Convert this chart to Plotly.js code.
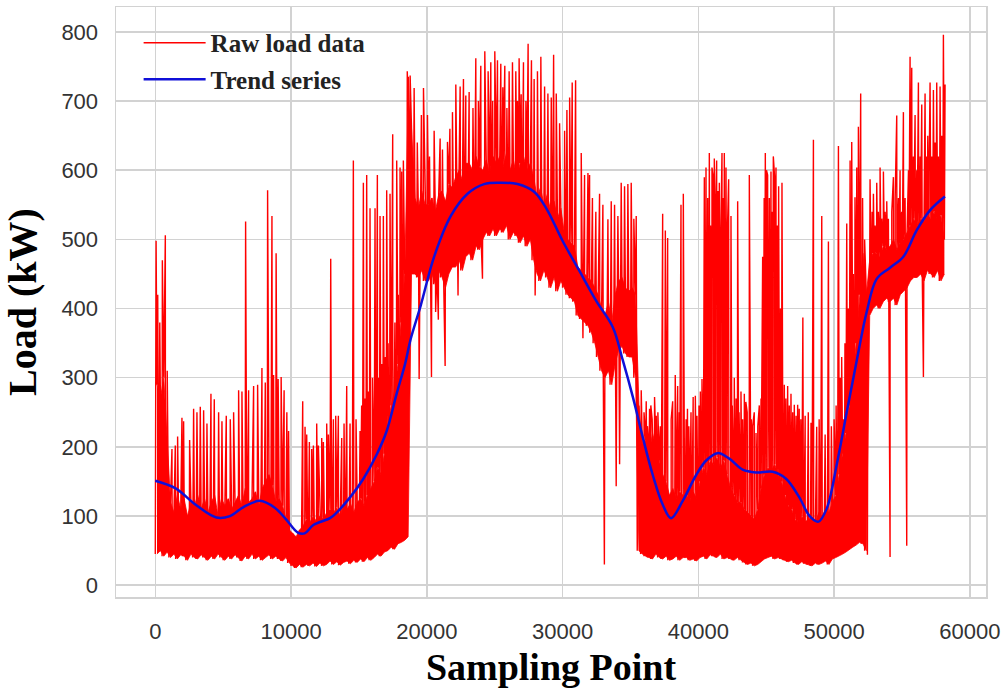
<!DOCTYPE html>
<html><head><meta charset="utf-8">
<script src="https://cdn.plot.ly/plotly-3.0.1.min.js"></script>
<style>html,body{margin:0;padding:0;background:#fff}#chart{width:1008px;height:696px}</style>
</head><body><div id="chart"></div><script>
const CHUNK = 250;
const bandLo = [
45,50,42,48, 40,45,38,44, 42,36,45,40, 38,44,40,36, 42,38,45,40,
36,42,38,44, 40,35,42,38, 45,38,42,36, 40,44,38,42, 38,35,40,32,
28,25,30,26, 30,28,32,27, 32,28,30,35, 30,34,29,33, 35,31,36,33,
38,34,40,36, 40,45,42,48, 50,55,52,60, 62,65,70,450, 450,445,455,440,
440,450,435,455, 445,430,450,460, 460,470,455,475, 480,470,490,485, 500,510,505,515,
505,515,510,520, 500,510,505,495, 505,490,500,470, 450,440,455,445, 430,445,425,440,
430,420,415,410, 390,385,380,375, 365,350,330,310, 300,310,290,320, 340,345,335,330,
330,300,50,45, 42,40,38,45, 40,38,42,36, 38,42,36,40, 40,36,38,35,
40,42,38,44, 42,40,45,38, 40,38,36,40, 36,33,30,32, 28,30,34,38,
40,42,38,40, 38,36,34,36, 32,30,34,31, 30,28,32,30, 32,35,30,38,
40,42,45,48, 52,55,58,62, 60,50,390,400, 405,400,410,415, 410,415,405,420,
425,430,440,445, 445,450,440,455, 450,445,455,440, 450
];
const bandHi = [
290,270,300,210, 120,105,130,110, 125,100,120,115, 130,110,125,105, 120,130,100,125,
115,125,110,120, 130,115,140,120, 125,135,115,140, 150,160,145,120, 125,115,95,80,
75,70,80,85, 95,90,100,92, 100,95,105,110, 105,112,100,115, 110,118,105,120,
125,115,130,140, 150,170,160,190, 230,260,280,320, 380,450,700,660, 560,545,570,550,
550,560,540,565, 570,555,580,575, 590,600,585,610, 610,600,620,605, 600,615,595,620,
610,620,605,625, 600,615,590,610, 620,600,610,590, 560,575,550,565, 540,555,530,545,
510,500,495,490, 460,455,450,445, 440,430,420,400, 390,410,380,420, 440,445,430,425,
430,420,260,200, 210,190,220,200, 180,160,150,130, 140,125,135,130, 130,120,135,125,
150,170,160,180, 175,185,170,180, 160,140,130,120, 120,110,105,100, 95,110,140,160,
170,165,175,160, 150,130,115,110, 95,90,100,92, 95,100,90,105, 100,110,105,120,
130,160,190,220, 260,300,350,420, 480,420,470,480, 480,475,490,485, 490,500,485,495,
500,510,520,530, 520,530,525,535, 530,540,525,535, 500
];
// Individual spikes (up and down): sampling point and load
const spikeX = [
60,180,330,520,740,880,
1228,1473,1645,1964,2087,2529,2823,3069,3314,3560,3805,4100,4345,4665,4910,5229,5524,5769,6138,6383,6653,6874,7242,7537,7856,8102,8273,8593,8715,8900,
9050,9270,9490,9690,9820,
10859,11031,11154,11350,11522,11645,11890,12013,12259,12381,12627,12750,12922,13118,13290,13486,13732,13904,14100,14345,14590,14787,15082,15200,15327,15450,15572,15700,15818,16000,16186,16358,16450,16555,16680,16800,16950,17045,17150,17291,17488,17650,17782,17900,18028,18150,18273,18396,18560,18641,
18773,19067,19300,19435,19600,19755,20049,20200,20344,20540,20650,20850,20982,21154,21350,21522,21700,21890,22136,22300,22455,22700,22872,23118,23400,23609,23800,23977,24100,24272,24517,24714,24850,25008,25205,25450,25600,25745,25900,26064,26310,26555,26680,26800,26950,27120,27300,27463,27709,27905,27980,28150,28400,
28676,28920,29167,29340,29535,29780,30150,30320,30520,30710,30960,31375,31500,31620,31870,31990,32200,32450,32725,32970,33080,33340,33585,33830,33950,34075,34200,34320,34566,34810,35057,35250,35425,35794,36000,36162,36408,36600,36776,37021,37200,
37373,37570,37741,38110,38300,38478,38723,38895,39100,39300,39460,39620,39779,40050,40270,40442,40565,40690,40810,40900,41006,41100,41178,41260,41350,41450,41547,41650,41743,41830,41915,42038,42150,42234,42406,42650,42897,43142,43388,43600,43756,44000,44250,44493,44738,44850,44935,45020,45106,45230,45352,45440,45524,45620,45720,45820,45916,46050,46162,46334,46580,46825,47070,47316,
47550,47700,47870,48100,48300,48478,48720,48900,49092,49340,49583,49800,50000,50150,50320,50450,50560,50690,50800,50933,51050,51180,51300,51420,51540,51670,51790,51960,52100,52250,52455,
52650,52800,52897,53020,53142,53260,53388,53510,53633,53760,53879,54000,54124,54250,54370,54500,54615,54740,54861,54980,55106,55230,55352,55480,55597,55720,55840,55966,56090,56211,56340,56457,56580,56702,56800,56900,57000,57070,57200,57316,57440,57561,57680,57807,57930,58052,58175,
36250,36500,36900,38000,38600,39200,39900,40150,42500,42780,43000,43260,43500,43900,44120,44380,44620,46450,46700,46950,47200,47430
];
const spikeY = [
498,420,380,470,506,310,
197,202,215,242,237,210,255,250,258,253,234,277,269,250,237,245,240,250,282,280,526,282,288,290,314,293,571,534,304,480,
298,301,282,250,223,
266,229,218,207,197,202,234,202,213,207,234,218,472,240,245,245,213,234,288,234,614,240,223,260,582,270,593,280,545,300,545,593,300,534,320,534,330,571,350,566,652,380,614,420,604,598,614,465,743,735,
737,719,640,298,680,719,680,620,301,657,395,384,646,630,317,641,660,684,724,419,721,732,708,713,690,762,700,751,443,772,743,756,700,772,759,754,720,751,690,743,756,743,700,762,710,756,700,783,759,732,419,743,764,
721,711,705,767,711,668,657,687,705,727,730,625,357,593,596,593,560,540,566,550,30,529,555,550,143,534,175,582,577,580,582,530,534,282,250,266,255,240,272,250,230,
537,513,502,266,304,288,550,566,240,230,250,272,274,260,298,590,604,560,625,520,604,590,617,540,614,570,582,500,625,560,625,604,520,587,534,300,555,280,277,250,593,230,220,260,475,560,625,600,593,560,598,540,620,590,604,520,577,400,582,290,288,277,261,261,
240,387,245,250,235,644,229,240,534,218,497,230,240,260,635,300,330,240,350,523,400,614,641,450,561,604,663,711,560,500,44,
587,540,566,520,582,540,604,530,598,540,555,530,41,540,590,560,679,560,600,540,684,560,57,600,764,748,620,680,600,727,620,695,301,711,620,650,600,727,620,716,640,727,620,721,650,796,724,
230,260,245,240,250,255,245,280,260,270,250,240,265,240,250,230,270,270,260,250,245,255
];
// Trend series
const trendX = [0,1500,3000,4500,5500,6500,7700,8800,9600,10500,11000,11645,12870,13360,14345,15330,16310,17045,17780,18400,18800,19560,20540,21770,23000,24220,25450,26680,27900,28800,30025,31250,32480,33700,34440,35180,35920,36650,37390,37990,38850,39830,40560,41420,42280,43265,44250,45475,46460,47440,48200,48850,49460,50200,50930,51670,52400,53140,54120,55100,56080,57060,58165];
const trendY = [151,140,116,98,100,113,122,112,96,76,75,87,97,105,127,154,189,223,277,320,355,405,475,534,566,580,582,580,569,545,497,454,411,373,325,272,213,159,116,97,122,159,180,191,183,167,163,164,154,127,100,92,111,175,250,325,395,443,459,475,513,542,562];
const xTicks = [0,10000,20000,30000,40000,50000,60000];
const yTicks = [0,100,200,300,400,500,600,700,800];

// assemble the raw series in sampling order
const pts = [];
for (let i = 0; i < bandLo.length; i++) {
  pts.push([i * CHUNK, bandLo[i]]);
  pts.push([i * CHUNK + CHUNK / 2, bandHi[i]]);
}
for (let j = 0; j < spikeX.length; j++) pts.push([spikeX[j], spikeY[j]]);
pts.sort((a, b) => a[0] - b[0]);
const rawX = pts.map(p => p[0]), rawY = pts.map(p => p[1]);
const bandX = bandLo.map((v, i) => i * CHUNK + CHUNK / 2);

const red = '#ff0000';
const grid = '#d2d2d2';
const data = [
  // dense part of the raw record (same read band edges), drawn solid
  {x: bandX, y: bandLo, type: 'scatter', mode: 'lines', showlegend: false, hoverinfo: 'skip',
   line: {color: red, width: 0.8}},
  {x: bandX, y: bandHi, type: 'scatter', mode: 'lines', showlegend: false, hoverinfo: 'skip',
   fill: 'tonexty', fillcolor: red, line: {color: red, width: 0.8}},
  {x: rawX, y: rawY, type: 'scatter', mode: 'lines', name: 'Raw load data', legendgroup: 'a',
   line: {color: red, width: 1.4}},
  {x: trendX, y: trendY, type: 'scatter', mode: 'lines', name: 'Trend series', legendgroup: 'b',
   line: {color: '#1010d8', width: 2.5, shape: 'spline', smoothing: 1}}
];
const tickFont = {family: 'Liberation Sans, Arial, sans-serif', size: 22, color: '#333333'};
const titleFont = {family: 'Liberation Serif, Times New Roman, serif', color: '#000000', weight: 'bold'};
const layout = {
  width: 1008, height: 696,
  margin: {l: 116, r: 22, t: 7, b: 99, pad: 0},
  paper_bgcolor: '#ffffff', plot_bgcolor: '#ffffff',
  showlegend: true,
  legend: {x: 0.026, y: 0.978, xanchor: 'left', yanchor: 'top', bgcolor: 'rgba(0,0,0,0)', borderwidth: 0,
           itemwidth: 62, traceorder: 'grouped', tracegroupgap: 1,
           font: {family: 'Liberation Serif, Times New Roman, serif', size: 25, color: '#222222', weight: 'bold'}},
  xaxis: {range: [-2894, 61190], tickvals: xTicks, ticktext: xTicks.map(String), showgrid: true,
          gridcolor: grid, gridwidth: 1.5, zeroline: false, showline: true, mirror: true,
          linecolor: grid, linewidth: 1.5, ticks: '', tickfont: tickFont, ticklabelstandoff: 14,
          title: {text: 'Sampling Point', font: Object.assign({size: 38}, titleFont), standoff: 10}},
  yaxis: {range: [-17, 836], tickvals: yTicks, ticktext: yTicks.map(String), showgrid: true,
          gridcolor: grid, gridwidth: 1.5, zeroline: false, showline: true, mirror: true,
          linecolor: grid, linewidth: 1.5, ticks: '', tickfont: tickFont, ticklabelstandoff: 12,
          title: {text: 'Load (kW)', font: Object.assign({size: 40}, titleFont), standoff: 12}}
};
Plotly.newPlot('chart', data, layout, {displayModeBar: false, staticPlot: true});
</script></body></html>
